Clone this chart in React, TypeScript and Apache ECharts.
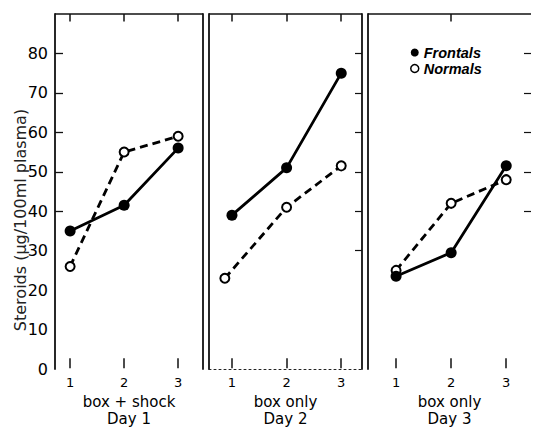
import React, { useEffect, useRef } from "react";
import * as echarts from "echarts";

const days = [1, 2, 3];
const frontalsDay1 = [35, 41.5, 56];
const normalsDay1 = [26, 55, 59];
const frontalsDay2 = [39, 51, 75];
const normalsDay2 = [23, 41, 51.5];
const normalsDay2X = [0.87, 2, 3];
const frontalsDay3 = [23.5, 29.5, 51.5];
const normalsDay3 = [25, 42, 48];
const yLabelValues = [0, 10, 20, 30, 40, 50, 60, 70, 80];
const leftTicks = [40, 50, 60, 70, 80];
const rightTicksDay2 = [30, 40, 50, 60, 70, 80];
const rightTicksDay3 = [40, 50, 60, 70, 80];
const topTicks = [days, days, [2]];
const panelNames = ["box + shock\nDay 1", "box only\nDay 2", "box only\nDay 3"];
const yTitle = "Steroids (µg/100ml plasma)";
const legendNames = ["Frontals", "Normals"];

const FONT = "DejaVu Sans";
const Y_MAX = 90;

export default function App() {
  const ref = useRef<HTMLDivElement>(null);
  useEffect(() => {
    if (!ref.current) return;
    const chart = echarts.init(ref.current, null, { renderer: "svg" });
    const grids = [
      { left: 55, top: 14, width: 148, height: 355, outerBoundsMode: "none", containLabel: false },
      { left: 209, top: 14, width: 153, height: 355, outerBoundsMode: "none", containLabel: false },
      { left: 368, top: 14, width: 163, height: 355, outerBoundsMode: "none", containLabel: false },
    ];
    const xRanges = [
      [0.72, 3.46],
      [0.58, 3.38],
      [0.49, 3.45],
    ];
    const xAxis: any[] = [];
    const yAxis: any[] = [];
    grids.forEach((g, i) => {
      xAxis.push({
        type: "value",
        gridIndex: i,
        position: "bottom",
        min: xRanges[i][0],
        max: xRanges[i][1],
        splitLine: { show: false },
        axisLine: {
          show: i === 1,
          onZero: false,
          lineStyle: { color: "#222", width: 1, type: [2, 3] },
        },
        axisTick: { show: false },
        axisLabel: {
          customValues: days,
          color: "#000",
          fontFamily: FONT,
          fontSize: 13,
          margin: 7,
        },
        name: panelNames[i],
        nameLocation: "middle",
        nameGap: 16,
        nameTextStyle: {
          color: "#000",
          fontFamily: FONT,
          fontSize: 15,
          lineHeight: 17,
          verticalAlign: "top",
        },
      });
      yAxis.push({
        type: "value",
        gridIndex: i,
        position: "left",
        min: 0,
        max: Y_MAX,
        interval: 10,
        splitLine: { show: false },
        axisLine: { show: true, onZero: false, lineStyle: { color: "#111", width: 1.8 } },
        axisTick: {
          show: i === 0,
          inside: true,
          length: 8,
          customValues: leftTicks,
          lineStyle: { color: "#111", width: 1.3 },
        },
        axisLabel: {
          show: i === 0,
          customValues: yLabelValues,
          color: "#000",
          fontFamily: FONT,
          fontSize: 16,
          margin: 7,
        },
      });
      yAxis.push({
        type: "value",
        gridIndex: i,
        position: "right",
        min: 0,
        max: Y_MAX,
        interval: 10,
        splitLine: { show: false },
        axisLine: { show: i < 2, onZero: false, lineStyle: { color: "#111", width: 1.8 } },
        axisTick: {
          show: i > 0,
          inside: true,
          length: 7,
          customValues: i === 1 ? rightTicksDay2 : rightTicksDay3,
          lineStyle: { color: "#111", width: 1.2 },
        },
        axisLabel: { show: false },
      });
    });

    const panels = [
      { f: frontalsDay1, n: normalsDay1, nx: days },
      { f: frontalsDay2, n: normalsDay2, nx: normalsDay2X },
      { f: frontalsDay3, n: normalsDay3, nx: days },
    ];
    const series: any[] = [];
    panels.forEach((p, i) => {
      const frame: any[] = [{ yAxis: Y_MAX }];
      topTicks[i].forEach((d) => frame.push([{ coord: [d, Y_MAX] }, { coord: [d, Y_MAX - 1.9] }]));
      days.forEach((d) => frame.push([{ coord: [d, 0.2] }, { coord: [d, 2.7] }]));
      series.push({
        type: "line",
        name: legendNames[1],
        xAxisIndex: i,
        yAxisIndex: i * 2,
        data: p.nx.map((x, k) => [x, p.n[k]]),
        symbol: "circle",
        symbolSize: 9,
        showAllSymbol: true,
        z: 2,
        itemStyle: { color: "#fff", borderColor: "#000", borderWidth: 2 },
        lineStyle: { color: "#000", width: 2.8, type: [8, 5] },
      });
      series.push({
        type: "line",
        name: legendNames[0],
        xAxisIndex: i,
        yAxisIndex: i * 2,
        data: days.map((x, k) => [x, p.f[k]]),
        symbol: "circle",
        symbolSize: 11,
        z: 3,
        itemStyle: { color: "#000", borderColor: "#000", borderWidth: 0 },
        lineStyle: { color: "#000", width: 2.8 },
        markLine: {
          silent: true,
          animation: false,
          symbol: ["none", "none"],
          label: { show: false },
          emphasis: { disabled: true },
          lineStyle: { color: "#111", width: 1.5, type: "solid" },
          data: frame,
        },
      });
    });

    chart.setOption({
      animation: false,
      backgroundColor: "#fff",
      grid: grids,
      xAxis,
      yAxis,
      series,
      legend: {
        left: 405,
        top: 40,
        orient: "vertical",
        itemGap: 1,
        itemWidth: 8,
        itemHeight: 8,
        textStyle: {
          fontFamily: "Liberation Sans",
          fontStyle: "italic",
          fontWeight: "bold",
          fontSize: 14.5,
          lineHeight: 14,
          color: "#000",
        },
        data: [
          { name: legendNames[0], icon: "circle", itemStyle: { color: "#000", borderWidth: 0 } },
          {
            name: legendNames[1],
            icon: "circle",
            itemStyle: { color: "#fff", borderColor: "#000", borderWidth: 1.5 },
          },
        ],
      },
      graphic: [
        {
          type: "text",
          x: 20,
          y: 220,
          rotation: Math.PI / 2,
          style: {
            text: yTitle,
            fontFamily: FONT,
            fontSize: 16,
            fill: "#222",
            align: "center",
            verticalAlign: "middle",
          },
        },
      ],
    });
    return () => chart.dispose();
  }, []);
  return (
    <div
      ref={ref}
      style={{ position: "fixed", left: 0, top: 0, width: 536, height: 427, background: "#fff" }}
    />
  );
}
